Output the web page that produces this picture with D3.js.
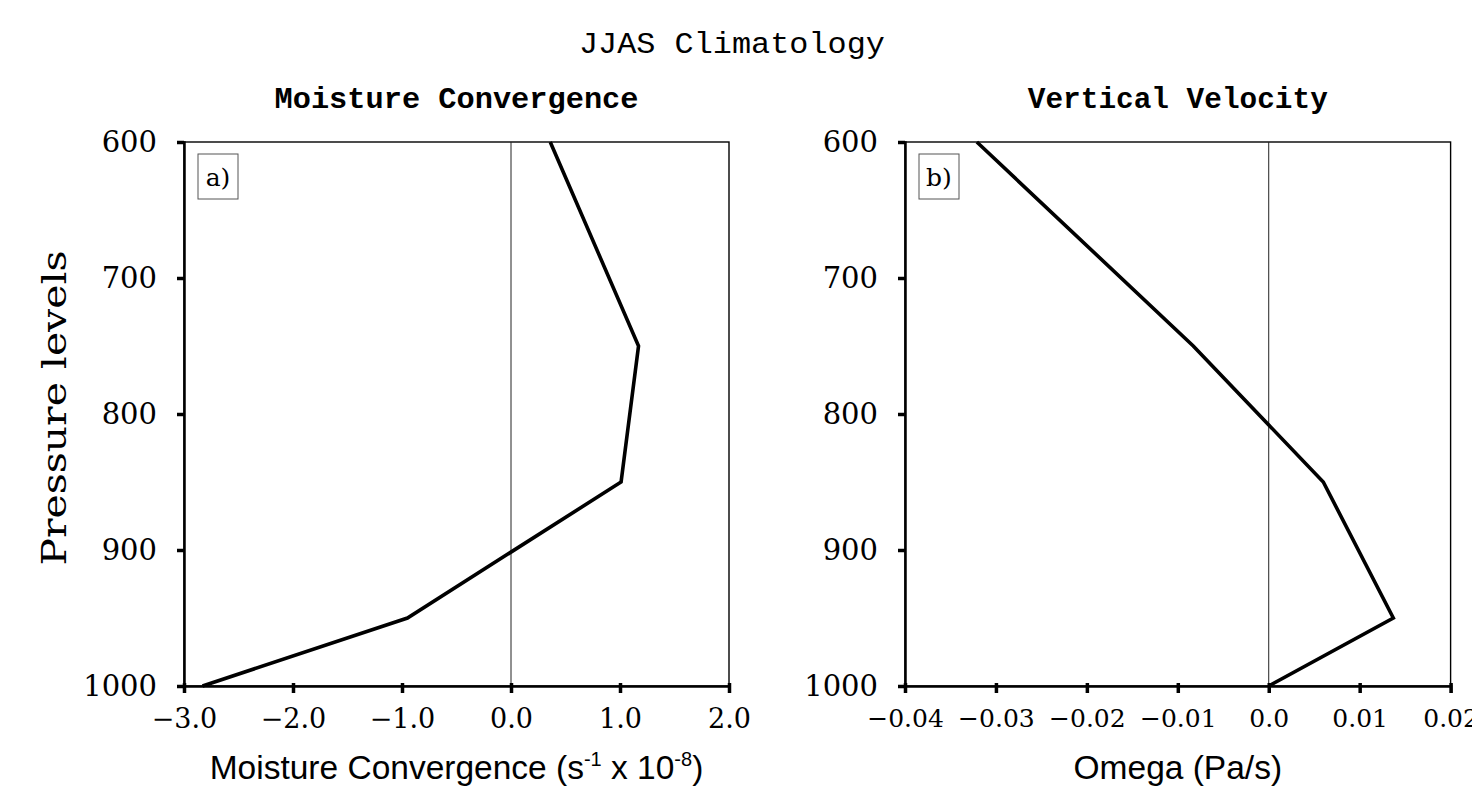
<!DOCTYPE html>
<html><head><meta charset="utf-8">
<script src="https://cdn.jsdelivr.net/npm/d3@7"></script>
<style>body{margin:0;background:#fff}</style>
</head><body>
<svg id="c" width="1472" height="790"></svg>
<script>
const levels = [600, 700, 800, 900, 1000];
const mcLevels = [600, 750, 850, 950, 1000];
const mcValues = [0.36, 1.17, 1.01, -0.95, -2.83];
const omLevels = [600, 750, 850, 950, 1000];
const omValues = [-0.0321, -0.0083, 0.0060, 0.0137, 0.0];
const mcTicks = [-3, -2, -1, 0, 1, 2];
const omTicks = [-0.04, -0.03, -0.02, -0.01, 0, 0.01, 0.02];
const omTickLabels = ["\u22120.04", "\u22120.03", "\u22120.02", "\u22120.01", "0.0", "0.01", "0.02"];

const svg = d3.select("#c");
const plotTop = 142, plotBot = 686;
const y = d3.scaleLinear().domain([600, 1000]).range([plotTop, plotBot]);

svg.append("text").attr("x", 732).attr("y", 53).attr("text-anchor", "middle")
  .attr("font-family", "Liberation Mono").attr("font-size", 29)
  .attr("textLength", 306).attr("lengthAdjust", "spacingAndGlyphs")
  .text("JJAS Climatology");

function panel(cfg) {
  const x = d3.scaleLinear().domain(cfg.domain).range([cfg.x0, cfg.x1]);
  const g = svg.append("g");
  g.append("text").attr("x", (cfg.x0 + cfg.x1) / 2).attr("y", 108).attr("text-anchor", "middle")
    .attr("font-family", "Liberation Mono").attr("font-weight", "bold").attr("font-size", 29)
    .attr("textLength", cfg.titleLen).attr("lengthAdjust", "spacingAndGlyphs")
    .text(cfg.title);
  g.append("rect").attr("x", cfg.x0).attr("y", plotTop).attr("width", cfg.x1 - cfg.x0).attr("height", plotBot - plotTop)
    .attr("fill", "none").attr("stroke", "#000").attr("stroke-width", 1.4);
  g.append("line").attr("x1", x(0)).attr("x2", x(0)).attr("y1", plotTop).attr("y2", plotBot)
    .attr("stroke", "#222").attr("stroke-width", 1);
  const ya = d3.axisLeft(y).tickValues(levels).tickSize(7).tickPadding(20).tickFormat(d3.format("d"));
  const gy = g.append("g").attr("transform", `translate(${cfg.x0},0)`).call(ya);
  gy.select(".domain").attr("stroke-width", 2.5);
  gy.selectAll(".tick line").attr("stroke-width", 3.5);
  gy.selectAll(".tick text").attr("font-family", "DejaVu Serif").attr("font-size", 29).attr("fill", "#000");
  const xa = d3.axisBottom(x).tickValues(cfg.ticks).tickSize(7).tickPadding(16)
    .tickFormat((d, i) => cfg.tickLabels[i]);
  const gx = g.append("g").attr("transform", `translate(0,${plotBot})`).call(xa);
  gx.select(".domain").attr("stroke-width", 2.5);
  gx.selectAll(".tick line").attr("y1", -3).attr("stroke-width", 3.5);
  gx.selectAll(".tick text").attr("font-family", "DejaVu Serif").attr("font-size", cfg.tickFont).attr("fill", "#000");
  const line = d3.line().x(d => x(d[1])).y(d => y(d[0]));
  g.append("path").datum(cfg.levels.map((l, i) => [l, cfg.values[i]]))
    .attr("d", line).attr("fill", "none").attr("stroke", "#000").attr("stroke-width", 3.6)
    .attr("stroke-linejoin", "miter");
  g.append("rect").attr("x", cfg.x0 + 14).attr("y", 154).attr("width", 40).attr("height", 45)
    .attr("fill", "#fff").attr("stroke", "#555").attr("stroke-width", 1);
  g.append("text").attr("x", cfg.x0 + 34).attr("y", 186).attr("text-anchor", "middle")
    .attr("font-family", "DejaVu Serif").attr("font-size", 25).text(cfg.label);
  const xt = g.append("text").attr("x", (cfg.x0 + cfg.x1) / 2).attr("y", 779).attr("text-anchor", "middle")
    .attr("font-family", "Liberation Sans").attr("font-size", 33.5);
  cfg.xtitle(xt);
  return x;
}

panel({x0: 184, x1: 729, domain: [-3, 2], ticks: mcTicks, tickFont: 27,
  tickLabels: mcTicks.map(d => (d < 0 ? "\u2212" : "") + Math.abs(d).toFixed(1)),
  levels: mcLevels, values: mcValues, title: "Moisture Convergence", titleLen: 364, label: "a)",
  xtitle: t => {
    t.append("tspan").text("Moisture Convergence (s");
    t.append("tspan").attr("dy", -13).attr("font-size", 20).text("-1");
    t.append("tspan").attr("dy", 13).text(" x 10");
    t.append("tspan").attr("dy", -13).attr("font-size", 20).text("-8");
    t.append("tspan").attr("dy", 13).text(")");
  }});
panel({x0: 905, x1: 1450.6, domain: [-0.04, 0.02], ticks: omTicks, tickLabels: omTickLabels, tickFont: 25,
  levels: omLevels, values: omValues, title: "Vertical Velocity", titleLen: 300, label: "b)",
  xtitle: t => t.text("Omega (Pa/s)")});

svg.append("text").attr("transform", "translate(66,408) rotate(-90)").attr("text-anchor", "middle")
  .attr("font-family", "DejaVu Serif").attr("font-size", 33)
  .attr("textLength", 315).attr("lengthAdjust", "spacingAndGlyphs")
  .text("Pressure levels");
</script>
</body></html>
